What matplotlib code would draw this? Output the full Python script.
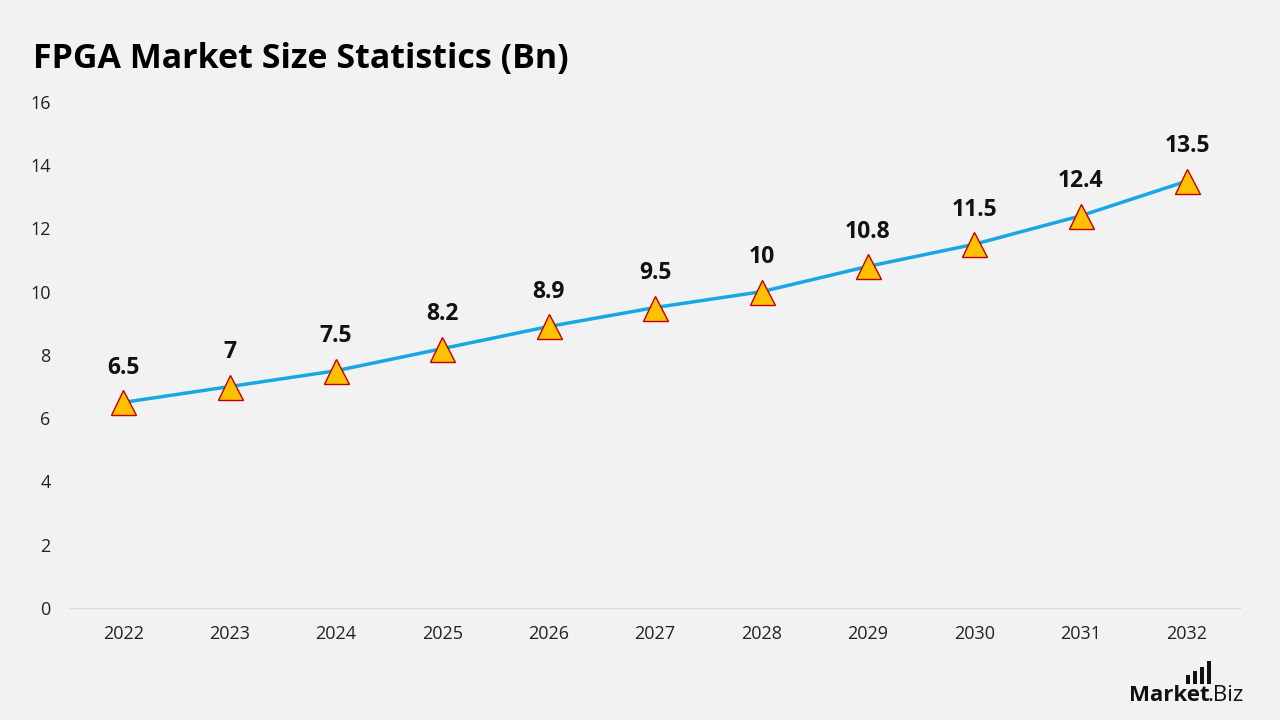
import matplotlib
matplotlib.use("Agg")
import matplotlib.pyplot as plt
from matplotlib.patches import Rectangle

years = ["2022", "2023", "2024", "2025", "2026", "2027", "2028", "2029", "2030", "2031", "2032"]
market_size = [6.5, 7, 7.5, 8.2, 8.9, 9.5, 10, 10.8, 11.5, 12.4, 13.5]
labels = ["6.5", "7", "7.5", "8.2", "8.9", "9.5", "10", "10.8", "11.5", "12.4", "13.5"]

plt.rcParams["font.family"] = ["Open Sans", "DejaVu Sans"]

bg = "#f2f2f2"
fig = plt.figure(figsize=(12.8, 7.2), dpi=100, facecolor=bg)
ax = fig.add_axes([0.0547, 0.1556, 0.9143, 0.7028], facecolor=bg)

x = list(range(len(years)))
ax.plot(x, market_size, color="#17a8e3", linewidth=2.5, zorder=2)
ax.plot(x, market_size, linestyle="none", marker="^", markersize=18,
        markerfacecolor="#ffc000", markeredgecolor="#c00000", markeredgewidth=1, zorder=3)

# value labels above each point
for xi, yi, lab in zip(x, market_size, labels):
    ax.annotate(lab, (xi, yi), xytext=(0, 25), textcoords="offset points",
                ha="center", va="center", fontsize=16.5, fontweight="bold", color="#111111")

ax.set_xlim(-0.5, len(years) - 0.5)
ax.set_ylim(0, 16)
ax.set_yticks(range(0, 17, 2))
ax.set_xticks(x)
ax.set_xticklabels(years)
ax.tick_params(axis="both", length=0, labelsize=13, colors="#222222")
ax.tick_params(axis="y", pad=14)
ax.tick_params(axis="x", pad=12)

for side in ["top", "right", "left"]:
    ax.spines[side].set_visible(False)
ax.spines["bottom"].set_color("#d9d9d9")
ax.spines["bottom"].set_linewidth(1)

fig.text(0.026, 0.918, "FPGA Market Size Statistics (Bn)", fontsize=24.5, fontweight="bold",
         color="#000000", ha="left", va="center")

# logo
mk = fig.text(0.882, 0.027, "Market", fontsize=16, fontweight="bold", color="#111111",
              ha="left", va="baseline")
fig.add_artist(matplotlib.text.Annotation(".Biz", xy=(1, 0), xycoords=mk, xytext=(-1.5, 0),
                                          textcoords="offset points", fontsize=16,
                                          color="#111111", ha="left", va="bottom"))
for i, h in enumerate([0.012, 0.018, 0.024, 0.032]):
    fig.patches.append(Rectangle((0.9265 + i * 0.0055, 0.050), 0.003, h, transform=fig.transFigure,
                                 facecolor="#111111", edgecolor="none"))

fig.savefig("out.png", dpi=100, facecolor=bg)
